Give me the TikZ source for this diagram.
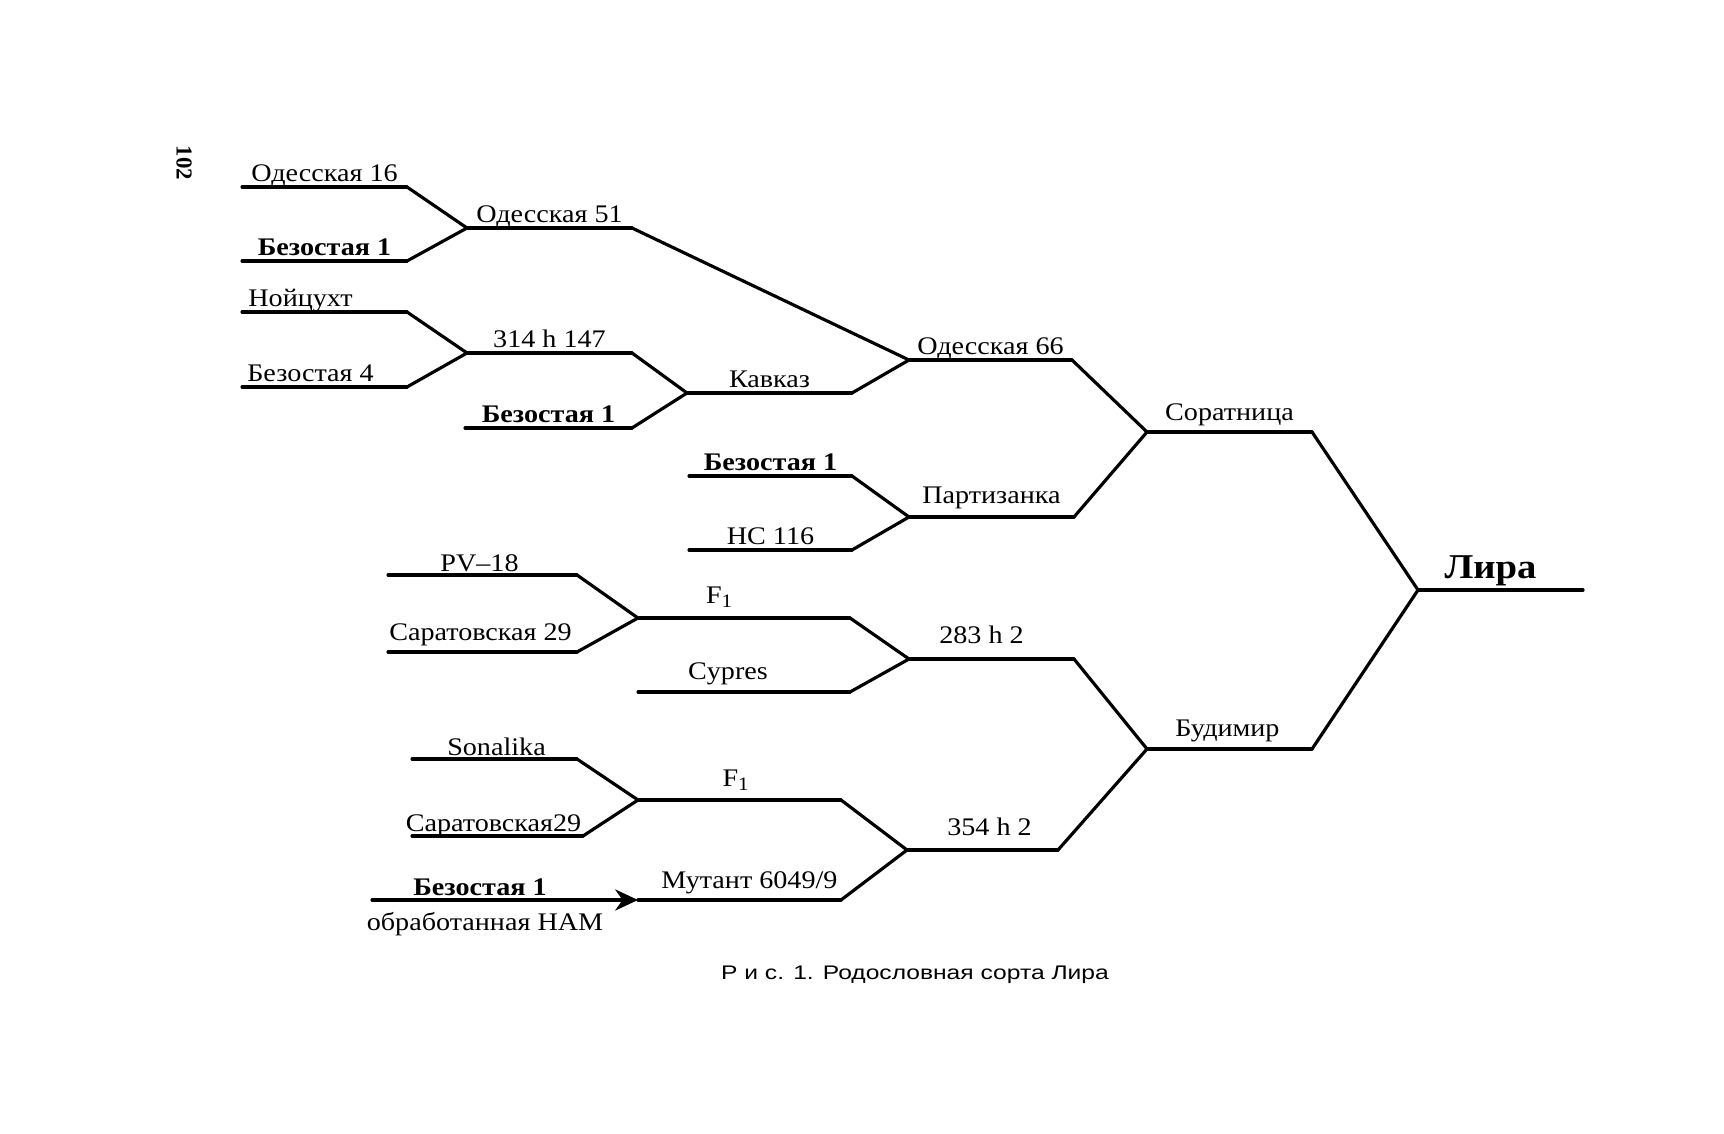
\documentclass[tikz,border=0pt]{standalone}
\usepackage{fontspec}
\setmainfont{Liberation Serif}
\newfontfamily\capfont{Liberation Sans}
\usetikzlibrary{calc}
\usetikzlibrary{arrows.meta}
\tikzset{
  cross/.style={line width=0.9pt,line cap=round,line join=round},
  sortname/.style={anchor=base,yscale=0.9,inner sep=0pt,font=\fontsize{8}{9}\selectfont},
}

\begin{document}
\begin{tikzpicture}[x=0.01cm,y=-0.01cm]
  \useasboundingbox (0,0) rectangle (1724,1134);

  % horizontal segments: name / left / right / height / label shift / label
  \foreach \n/\xa/\xb/\y/\dx/\dy/\t in {
    od16/242/407/187/0/-5/{Одесская 16},
    bz1a/242/407/261/0/-5/{\bfseries Безостая 1},
    od51/467/632/228/0/-5/{Одесская 51},
    noy/242/407/312/-24/-5/{Нойцухт},
    bz4/242/407/387/-14/-5/{Безостая 4},
    h147/467/632/353/0/-5/{314 h 147},
    bz1b/465/632/428/0/-5/{\bfseries Безостая 1},
    kav/687/852/393/0/-5/{Кавказ},
    od66/909/1072/360/0/-5/{Одесская 66},
    bz1c/689/852/476/0/-5/{\bfseries Безостая 1},
    nc116/689/852/550/0/-5/{НС 116},
    part/909/1074/517/0/-13/{Партизанка},
    sor/1147/1312/432/0/-11/{Соратница},
    pv18/388/577/575/-3/-3/{PV--18},
    sar29a/388/577/652/-2/-11/{Саратовская 29},
    f1a/638/850/618/-24/-14/{F\textsubscript{1}},
    cyp/638/850/692/-16/-12/{Cypres},
    h283/909/1074/659/-10/-15/{283 h 2},
    son/412/577/759/2/-3/{Sonalika},
    sar29b/412/583/836/-4/-5/{Саратовская29},
    f1b/638/841/800/-3/-13/{F\textsubscript{1}},
    mut/638/841/900/10/-12/{Мутант 6049/9},
    h354/907/1058/850/7/-14/{354 h 2},
    bud/1147/1312/749/-2/-12/{Будимир}
  }{%
    \coordinate (\n-l) at (\xa,\y);
    \coordinate (\n-r) at (\xb,\y);
    \draw [cross] (\n-l) -- (\n-r);
    \node [sortname] (\n) at ($(\n-l)!0.5!(\n-r)+(\dx,\dy)$) {\t};
  }

  % the cultivar itself
  \coordinate (lira-l) at (1418,590);
  \coordinate (lira-r) at (1583,590);
  \draw [cross] (lira-l) -- (lira-r);
  \node [sortname,font=\fontsize{11}{13}\selectfont\bfseries] (lira)
    at ($(lira-l)!0.5!(lira-r)+(-10,-11)$) {Лира};

  % mutagen treated parent
  \coordinate (bz1d-l) at (372,900);
  \coordinate (bz1d-r) at (638,900);
  \draw [cross,-{Stealth[length=6.5pt,width=6pt]}] (bz1d-l) -- (bz1d-r);
  \node [sortname,font=\fontsize{8}{9}\selectfont\bfseries] (bz1d)
    at ($(bz1d-l)!0.5!(bz1d-r)+(-25,-4)$) {Безостая 1};
  \node [sortname] (bz1d-note) at ($(bz1d-l)!0.5!(bz1d-r)+(-20,30)$) {обработанная НАМ};

  % crossings
  \foreach \a/\b in {od16/od51, bz1a/od51, noy/h147, bz4/h147, h147/kav,
    bz1b/kav, od51/od66, kav/od66, bz1c/part, nc116/part, od66/sor,
    part/sor, pv18/f1a, sar29a/f1a, f1a/h283, cyp/h283, son/f1b,
    sar29b/f1b, f1b/h354, mut/h354, h283/bud, h354/bud, sor/lira,
    bud/lira}
    \draw [cross] (\a-r) -- (\b-l);

  \node [rotate=-90,font=\fontsize{6.5}{7}\selectfont\bfseries] (page) at (184,163) {102};
  \node [anchor=base,yscale=0.8,inner sep=0pt,font=\capfont\fontsize{7}{8}\selectfont]
    (caption) at (915,979) {Р и с. 1. Родословная сорта Лира};
\end{tikzpicture}
\end{document}
